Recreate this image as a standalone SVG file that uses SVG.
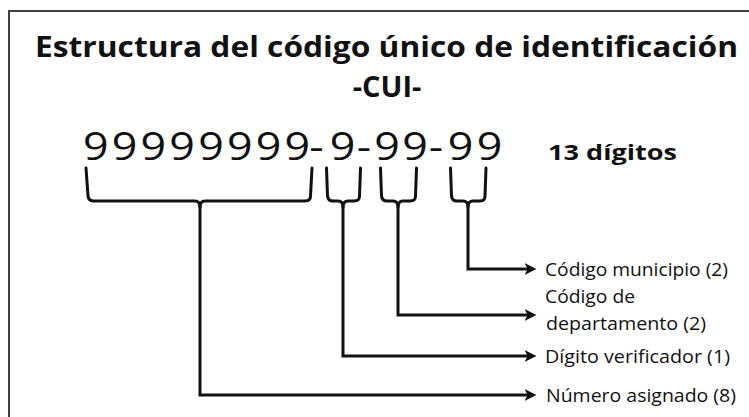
<svg xmlns="http://www.w3.org/2000/svg" width="749" height="417" viewBox="0 0 749 417">
<style>
.title{font-family:"Open Sans","Noto Sans",sans-serif;font-weight:bold;font-size:29px;fill:#111}
.digits{font-family:"Open Sans","Noto Sans",sans-serif;font-size:39px;fill:#111}
.count{font-family:"Open Sans","Noto Sans",sans-serif;font-weight:bold;font-size:22px;fill:#111}
.label{font-family:"Open Sans","Noto Sans",sans-serif;font-size:18.5px;fill:#111}
.brace{fill:none;stroke:#111;stroke-width:3;stroke-linejoin:round;stroke-linecap:round}
.conn{fill:none;stroke:#111;stroke-width:3}
</style>
<defs>
<marker id="arrow" markerUnits="userSpaceOnUse" markerWidth="13" markerHeight="12" refX="6" refY="5.5" orient="auto" viewBox="0 0 12 11">
<path d="M0,0 L11,5.5 L0,11 L3,5.5 Z" fill="#111"/>
</marker>
</defs>
<rect x="0" y="0" width="749" height="417" fill="#fff"/>
<rect x="9" y="11" width="760" height="430" fill="none" stroke="#2a2a2a" stroke-width="1.8"/>
<g id="title">
<text class="title" x="35" y="57" textLength="703" lengthAdjust="spacingAndGlyphs">Estructura del código único de identificación</text>
<text class="title" x="387" y="97" text-anchor="middle">-CUI-</text>
</g>
<g id="cui-number">
<text class="digits" y="160" text-anchor="middle" transform="scale(1.15,1)" x="83.3 108.3 133.4 158.4 183.5 208.5 233.6 258.6 275.2 297.8 316.5 336.5 360.9 379.1 400.4 425.7">99999999-9-99-99</text>
<text class="count" x="548" y="160" textLength="129" lengthAdjust="spacingAndGlyphs">13 dígitos</text>
</g>
<g id="brace-numero">
<path class="brace" d="M86,168 L88,196 Q88.5,201 94,201 H195 Q200,201 200,207 Q200,201 205,201 H305 Q310.5,201 310.5,196 L312,168"/>
</g>
<g id="brace-verificador">
<path class="brace" d="M326.5,168 L327.5,196 Q328,201 333,201 H338 Q343,201 343,207 Q343,201 348,201 H354 Q359.5,201 359.5,196 L360.5,168"/>
</g>
<g id="brace-departamento">
<path class="brace" d="M380.5,168 L381.5,196 Q382,201 387,201 H393 Q398,201 398,207 Q398,201 403,201 H410 Q415.5,201 415.5,196 L416.5,168"/>
</g>
<g id="brace-municipio">
<path class="brace" d="M450.5,168 L451.5,196 Q452,201 457,201 H463 Q468,201 468,207 Q468,201 473,201 H480 Q485,201 485,196 L486,168"/>
</g>
<g id="connectors">
<path class="conn" d="M200,205 V395 H531" marker-end="url(#arrow)"/>
<path class="conn" d="M343,205 V356 H531" marker-end="url(#arrow)"/>
<path class="conn" d="M398,205 V315 H531" marker-end="url(#arrow)"/>
<path class="conn" d="M468,205 V269 H531" marker-end="url(#arrow)"/>
</g>
<g id="label-municipio">
<text class="label" x="545" y="276" textLength="183" lengthAdjust="spacingAndGlyphs">Código municipio (2)</text>
</g>
<g id="label-departamento">
<text class="label" x="545" y="303" textLength="90" lengthAdjust="spacingAndGlyphs">Código de</text>
<text class="label" x="546" y="330" textLength="160" lengthAdjust="spacingAndGlyphs">departamento (2)</text>
</g>
<g id="label-verificador">
<text class="label" x="545" y="363" textLength="185" lengthAdjust="spacingAndGlyphs">Dígito verificador (1)</text>
</g>
<g id="label-numero">
<text class="label" x="546" y="402" textLength="190" lengthAdjust="spacingAndGlyphs">Número asignado (8)</text>
</g>
</svg>
